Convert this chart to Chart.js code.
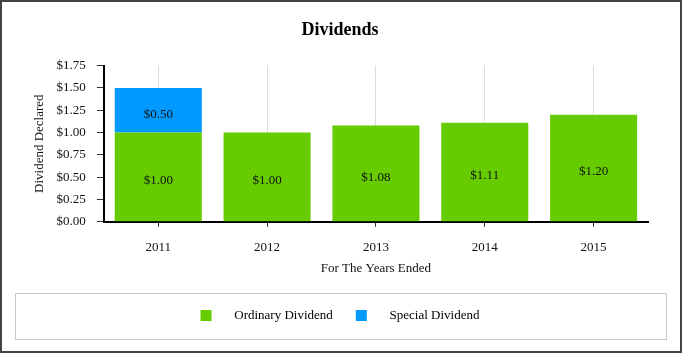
<!DOCTYPE html>
<html>
<head>
<meta charset="utf-8">
<script src="https://cdn.jsdelivr.net/npm/chart.js@4/dist/chart.umd.min.js"></script>
<style>
  html, body { margin: 0; padding: 0; background: #fff; }
  #wrap { width: 682px; height: 353px; position: relative; }
</style>
</head>
<body>
<div id="wrap"><canvas id="dividendChart"></canvas></div>
<script>
const years = ['2011', '2012', '2013', '2014', '2015'];
const ordinary = [1.00, 1.00, 1.08, 1.11, 1.20];
const special = [0.50, null, null, null, null];
const yTicks = [0, 0.25, 0.5, 0.75, 1.0, 1.25, 1.5, 1.75];

const serif = "'Liberation Serif', 'Times New Roman', serif";

// frame round the whole picture, box round the legend, labels inside bars
const decorations = {
  id: 'decorations',
  afterDraw(chart) {
    const c = chart.ctx;
    c.save();
    c.strokeStyle = '#444';
    c.lineWidth = 2;
    c.strokeRect(1, 1, chart.width - 2, chart.height - 2);

    const hb = chart.legend.legendHitBoxes;
    if (hb && hb.length) {
      const cy = hb[0].top + hb[0].height / 2;
      c.strokeStyle = '#c8c8c8';
      c.lineWidth = 1;
      c.strokeRect(15.5, Math.round(cy - 23) + 0.5, chart.width - 31, 46);
    }

    c.fillStyle = '#111';
    c.font = '13px ' + serif;
    c.textAlign = 'center';
    c.textBaseline = 'middle';
    chart.data.datasets.forEach((ds, i) => {
      chart.getDatasetMeta(i).data.forEach((bar, j) => {
        const v = ds.data[j];
        if (v == null) return;
        c.fillText('$' + v.toFixed(2), bar.x, (bar.y + bar.base) / 2 + 4);
      });
    });
    c.restore();
  }
};

const ctx = document.getElementById('dividendChart').getContext('2d');
const dividendChart = new Chart(ctx, {
  type: 'bar',
  data: {
    labels: years,
    datasets: [
      {
        label: 'Ordinary Dividend',
        data: ordinary,
        backgroundColor: '#66CC00',
        barPercentage: 0.8,
        categoryPercentage: 1.0,
      },
      {
        label: 'Special Dividend',
        data: special,
        backgroundColor: '#0099FF',
        barPercentage: 0.8,
        categoryPercentage: 1.0,
      },
    ],
  },
  options: {
    responsive: true,
    maintainAspectRatio: false,
    animation: false,
    layout: {
      padding: { top: 20, right: 34, bottom: 21, left: 32 },
    },
    scales: {
      x: {
        stacked: true,
        grid: {
          offset: false,
          color: '#dcdcdc',
          tickColor: '#333',
          tickLength: 5,
        },
        border: { color: '#000', width: 2 },
        ticks: {
          color: '#111',
          padding: 13,
          font: { family: serif, size: 13 },
        },
        title: {
          display: true,
          text: 'For The Years Ended',
          color: '#111',
          font: { family: serif, size: 13 },
          padding: { top: -8, bottom: 23 },
        },
      },
      y: {
        stacked: true,
        min: 0,
        max: 1.75,
        afterBuildTicks(axis) {
          axis.ticks = yTicks.map(v => ({ value: v }));
        },
        grid: {
          drawOnChartArea: false,
          tickColor: '#333',
          tickLength: 7,
        },
        border: { color: '#000', width: 2 },
        ticks: {
          color: '#111',
          padding: 11,
          font: { family: serif, size: 13 },
          callback: v => '$' + Number(v).toFixed(2),
        },
        title: {
          display: true,
          text: 'Dividend Declared',
          color: '#111',
          font: { family: serif, size: 13 },
          padding: { top: 0, bottom: -2 },
        },
      },
    },
    plugins: {
      title: {
        display: true,
        text: 'Dividends',
        color: '#000',
        font: { family: serif, size: 18, weight: 'bold' },
        padding: { top: 0, bottom: 24 },
      },
      legend: {
        position: 'bottom',
        labels: {
          color: '#111',
          boxWidth: 11,
          boxHeight: 11,
          padding: 10,
          font: { family: serif, size: 13 },
          generateLabels(chart) {
            return chart.data.datasets.map((ds, i) => ({
              text: '     ' + ds.label + (i === 0 ? '    ' : ''),
              fillStyle: ds.backgroundColor,
              strokeStyle: ds.backgroundColor,
              lineWidth: 0,
              datasetIndex: i,
              hidden: false,
            }));
          },
        },
      },
      tooltip: { enabled: false },
    },
  },
  plugins: [decorations],
});
</script>
</body>
</html>
